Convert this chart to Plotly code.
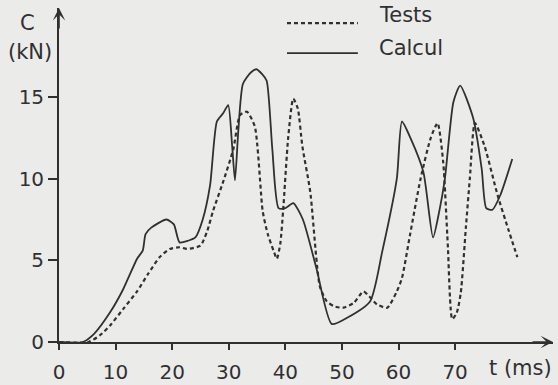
import plotly.graph_objects as go

# Calcul (solid)
t_calc = [0, 4.2, 6.2, 9.0, 11.3, 13.8, 14.8, 15.3, 16.3, 19.0, 20.3, 21.3, 22.8, 24.1,
          25.4, 26.7, 27.9, 29.0, 29.9, 30.6, 31.1, 31.7, 32.5, 33.9, 34.9, 35.9, 36.7,
          37.7, 38.8, 40.0, 41.4, 43.1, 45.5, 48.2, 51.0, 55.0, 57.1, 59.7, 60.6, 62.1,
          64.4, 66.1, 67.2, 68.2, 69.7, 70.9, 73.2, 74.7, 75.5, 76.6, 78.0, 80.1]
c_calc = [0, 0, 0.5, 1.8, 3.2, 5.1, 5.6, 6.6, 7.0, 7.5, 7.2, 6.1, 6.2, 6.4,
          7.5, 9.6, 13.5, 14.0, 14.5, 12.0, 9.9, 13.0, 15.8, 16.5, 16.7, 16.4, 16.0,
          11.8, 8.2, 8.2, 8.5, 7.5, 4.5, 1.1, 1.5, 2.5, 5.5, 10.0, 13.5, 12.5,
          10.4, 6.4, 8.0, 10.0, 14.7, 15.7, 13.7, 10.6, 8.2, 8.1, 9.0, 11.2]

# Tests (dashed)
t_test = [0, 5.2, 7.2, 9.0, 11.3, 13.8, 15.8, 17.8, 19.6, 21.3, 22.6, 25.0, 26.2, 27.2,
          29.0, 30.8, 32.0, 33.2, 34.6, 36.0, 36.9, 37.9, 38.5, 39.1, 39.6, 40.5, 41.4,
          42.2, 43.0, 44.4, 46.1, 47.3, 48.5, 50.2, 52.1, 53.8, 54.8, 56.2, 58.0, 59.7,
          60.6, 62.0, 63.9, 65.7, 66.9, 67.9, 68.7, 69.5, 70.3, 71.0, 71.9, 72.6, 73.5,
          75.2, 77.5, 79.4, 81.0]
c_test = [0, 0, 0.4, 1.0, 2.0, 3.1, 4.2, 5.2, 5.7, 5.8, 5.7, 5.9, 6.8, 8.0,
          9.8, 11.8, 13.9, 14.1, 13.2, 8.0, 6.6, 5.6, 5.1, 6.0, 8.0, 12.5, 14.9,
          14.3, 12.0, 9.2, 3.4, 2.5, 2.2, 2.1, 2.4, 3.1, 2.8, 2.3, 2.1, 3.1,
          3.9, 6.5, 10.0, 12.5, 13.4, 11.0, 6.0, 1.4, 1.8, 3.0, 7.0, 10.0, 13.4,
          12.0, 9.0, 6.9, 5.2]

x_ticks = [0, 10, 20, 30, 40, 50, 60, 70]
y_ticks = [0, 5, 10, 15]

ink = "#303030"
paper = "#ebebe9"
tick_font = dict(family="DejaVu Sans, sans-serif", size=20, color=ink)
text_font = dict(family="DejaVu Sans, sans-serif", size=21, color=ink)

X_MAX = 87.3
Y_MAX = 20.45

fig = go.Figure()
fig.add_trace(go.Scatter(x=t_test, y=c_test, mode="lines", name="Tests", showlegend=False,
                         line=dict(color=ink, width=2.2, dash="4px,3px", shape="spline", smoothing=0.6)))
fig.add_trace(go.Scatter(x=t_calc, y=c_calc, mode="lines", name="Calcul", showlegend=False,
                         line=dict(color=ink, width=1.8, shape="spline", smoothing=0.6)))

fig.update_layout(
    width=558, height=385,
    margin=dict(l=59, r=5, t=8, b=43, autoexpand=False),
    paper_bgcolor=paper, plot_bgcolor=paper,
    font=text_font,
    showlegend=False,
    xaxis=dict(range=[0, X_MAX], tickvals=x_ticks, ticktext=[str(v) for v in x_ticks],
               showgrid=False, zeroline=False, showline=True, linecolor=ink, linewidth=1.8,
               ticks="outside", ticklen=6, tickcolor=ink, tickwidth=1.8, tickfont=tick_font,
               ticklabelstandoff=5, automargin=False),
    yaxis=dict(range=[0, Y_MAX], tickvals=y_ticks, ticktext=[str(v) for v in y_ticks],
               showgrid=False, zeroline=False, showline=True, linecolor=ink, linewidth=1.8,
               ticks="outside", ticklen=9, tickcolor=ink, tickwidth=1.8, tickfont=tick_font,
               automargin=False),
)

# axis arrows
fig.add_annotation(x=0, y=Y_MAX, xref="x", yref="y", ax=0, ay=22, showarrow=True,
                   arrowhead=3, arrowsize=1.3, arrowwidth=1.6, arrowcolor=ink, text="")
fig.add_annotation(x=X_MAX, y=0, xref="x", yref="y", ax=-22, ay=0, showarrow=True,
                   arrowhead=3, arrowsize=1.3, arrowwidth=1.6, arrowcolor=ink, text="")

# axis titles
fig.add_annotation(x=-0.0628, y=0.955, xref="paper", yref="paper", text="C", showarrow=False,
                   font=text_font, xanchor="center", yanchor="middle")
fig.add_annotation(x=-0.0587, y=0.868, xref="paper", yref="paper", text="(kN)", showarrow=False,
                   font=text_font, xanchor="center", yanchor="middle")
fig.add_annotation(x=0.935, y=-0.078, xref="paper", yref="paper", text="t (ms)", showarrow=False,
                   font=text_font, xanchor="center", yanchor="middle")

# legend (hand drawn as in the original)
fig.add_shape(type="line", xref="paper", yref="paper", x0=0.4615, x1=0.605, y0=0.955, y1=0.955,
              line=dict(color=ink, width=2.2, dash="4px,3px"))
fig.add_shape(type="line", xref="paper", yref="paper", x0=0.4615, x1=0.605, y0=0.865, y1=0.865,
              line=dict(color=ink, width=1.8))
fig.add_annotation(x=0.644, y=0.979, xref="paper", yref="paper", text="Tests", showarrow=False,
                   font=text_font, xanchor="left", yanchor="middle")
fig.add_annotation(x=0.644, y=0.880, xref="paper", yref="paper", text="Calcul", showarrow=False,
                   font=text_font, xanchor="left", yanchor="middle")

fig.write_html("out.html", config={"displayModeBar": False},
               post_script="document.body.style.margin='0';document.body.style.background='%s';" % paper)
